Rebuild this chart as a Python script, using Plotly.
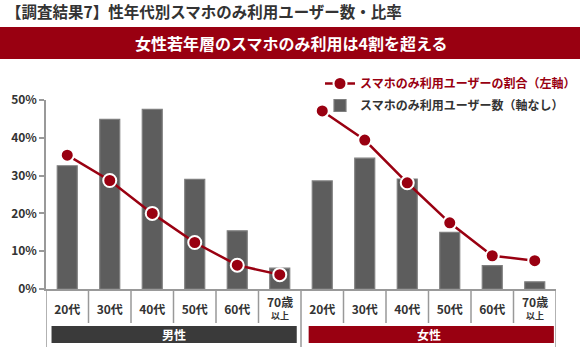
import plotly.graph_objects as go

# ---- data ----
age_labels = ["20代", "30代", "40代", "50代", "60代", "70歳<br>以上"]
groups = ["男性", "女性"]
male_users = [32.6, 44.9, 47.5, 29.0, 15.4, 5.5]      # bar heights (no axis)
female_users = [28.6, 34.6, 29.1, 15.0, 6.2, 1.9]
male_ratio = [35.4, 28.7, 20.0, 12.3, 6.3, 3.8]       # % (left axis)
female_ratio = [47.1, 39.4, 28.1, 17.5, 8.8, 7.5]
y_ticks = [0, 10, 20, 30, 40, 50]
y_tick_labels = ["0%", "10%", "20%", "30%", "40%", "50%"]

title_text = "【調査結果7】性年代別スマホのみ利用ユーザー数・比率"
banner_text = "女性若年層のスマホのみ利用は4割を超える"
line_name = "スマホのみ利用ユーザーの割合（左軸）"
bar_name = "スマホのみ利用ユーザー数（軸なし）"

RED = "#990011"
DARK = "#333333"
GRID = "#999999"
FONT = "Noto Sans CJK JP"

n = len(age_labels)
x_male = list(range(n))
x_female = list(range(n, 2 * n))
all_x = x_male + x_female
all_labels = age_labels + age_labels

fig = go.Figure()

fig.add_trace(go.Scatter(
    x=x_male, y=male_ratio, mode="lines+markers",
    name=f"<span style='color:{RED}'>{line_name}</span>",
    legendgroup="ratio",
    line=dict(color=RED, width=2.5),
    marker=dict(size=13, color=RED, line=dict(color="white", width=2)),
))
fig.add_trace(go.Scatter(
    x=x_female, y=female_ratio, mode="lines+markers",
    name=line_name, legendgroup="ratio", showlegend=False,
    line=dict(color=RED, width=2.5),
    marker=dict(size=13, color=RED, line=dict(color="white", width=2)),
))
fig.add_trace(go.Bar(
    x=all_x, y=male_users + female_users, name=bar_name,
    legendgroup="users", width=0.47,
    marker=dict(color="#5d5d5d", line=dict(color="#7e7e7e", width=1.2)),
))

# px -> paper helpers (plot area: x 46..556, y 100..289)
L, R, T, B = 46, 24, 100, 58
W, H = 580, 347
pw, ph = W - L - R, H - T - B
def px(xp):
    return (xp - L) / pw
def py(yp):
    return (H - B - yp) / ph

shapes = []
shapes.append(dict(type="rect", xref="paper", yref="paper",
                   x0=px(0), x1=px(W), y0=py(59), y1=py(27),
                   fillcolor=RED, line=dict(width=0), layer="above"))
for i in range(2 * n + 1):
    long = i in (0, n, 2 * n)
    shapes.append(dict(type="line", xref="x", yref="paper",
                       x0=i - 0.5, x1=i - 0.5, y0=0,
                       y1=py(347 if long else 323),
                       line=dict(color=GRID, width=1.5)))
band_cols = ["#3a3a3a", RED]
for g, col in enumerate(band_cols):
    x0 = g * n - 0.5 + (0.13 if g == 0 else 0.18)
    x1 = (g + 1) * n - 0.5 - (0.1 if g == 0 else 0.05)
    shapes.append(dict(type="rect", xref="x", yref="paper",
                       x0=x0, x1=x1, y0=py(343), y1=py(326),
                       fillcolor=col, line=dict(width=0)))

annotations = [
    dict(text=f"<b>{banner_text}</b>", xref="paper", yref="paper",
         x=px(291), y=py(43), xanchor="center", yanchor="middle",
         showarrow=False, font=dict(family=FONT, size=16, color="white")),
]
for g, name in enumerate(groups):
    annotations.append(dict(text=f"<b>{name}</b>", xref="x", yref="paper",
                            x=g * n + (n - 1) / 2, y=py(334.5),
                            xanchor="center", yanchor="middle", showarrow=False,
                            font=dict(family=FONT, size=12, color="white")))

# two-line tick labels drawn as annotations (tighter line spacing)
tick_text = []
for xv, lab in zip(all_x, all_labels):
    if "<br>" in lab:
        top, bottom = lab.split("<br>")
        tick_text.append("")
        annotations.append(dict(
            text=f"<b><span style='font-size:12px'>{top}</span><br>{bottom}</b>",
            xref="x", yref="paper", x=xv, y=py(307.5),
            xanchor="center", yanchor="middle", showarrow=False,
            font=dict(family=FONT, size=9, color=DARK)))
    else:
        tick_text.append(lab)

fig.update_layout(
    width=W, height=H,
    margin=dict(l=L, r=R, t=T, b=B, pad=0, autoexpand=False),
    paper_bgcolor="white", plot_bgcolor="white",
    font=dict(family=FONT, size=12, color=DARK),
    title=dict(text=f"<b>{title_text}</b>", xref="container", yref="container",
               x=6 / W, y=1 - 12.5 / H, xanchor="left", yanchor="middle",
               font=dict(family=FONT, size=15.5, color=DARK)),
    showlegend=True,
    legend=dict(x=px(320), y=py(69), xanchor="left", yanchor="top",
                traceorder="grouped", tracegroupgap=3,
                font=dict(family=FONT, size=12, color=DARK, weight="bold"),
                bgcolor="rgba(0,0,0,0)"),
    shapes=shapes,
    annotations=annotations,
    xaxis=dict(range=[-0.5, 2 * n - 0.5], tickmode="array",
               tickvals=all_x, ticktext=tick_text,
               showline=True, linecolor=GRID, linewidth=1.5,
               ticks="", showgrid=False, zeroline=False,
               ticklabelstandoff=9,
               tickfont=dict(family=FONT, size=12, color=DARK, weight="bold")),
    yaxis=dict(range=[0, 50], tickmode="array", tickvals=y_ticks,
               ticktext=y_tick_labels,
               showline=True, linecolor=GRID, linewidth=1.5,
               ticks="outside", ticklen=5, tickcolor=GRID, tickwidth=1.5,
               showgrid=False, zeroline=False,
               tickfont=dict(family=FONT, size=12, color=DARK, weight="bold")),
)

fig.write_html("out.html")
